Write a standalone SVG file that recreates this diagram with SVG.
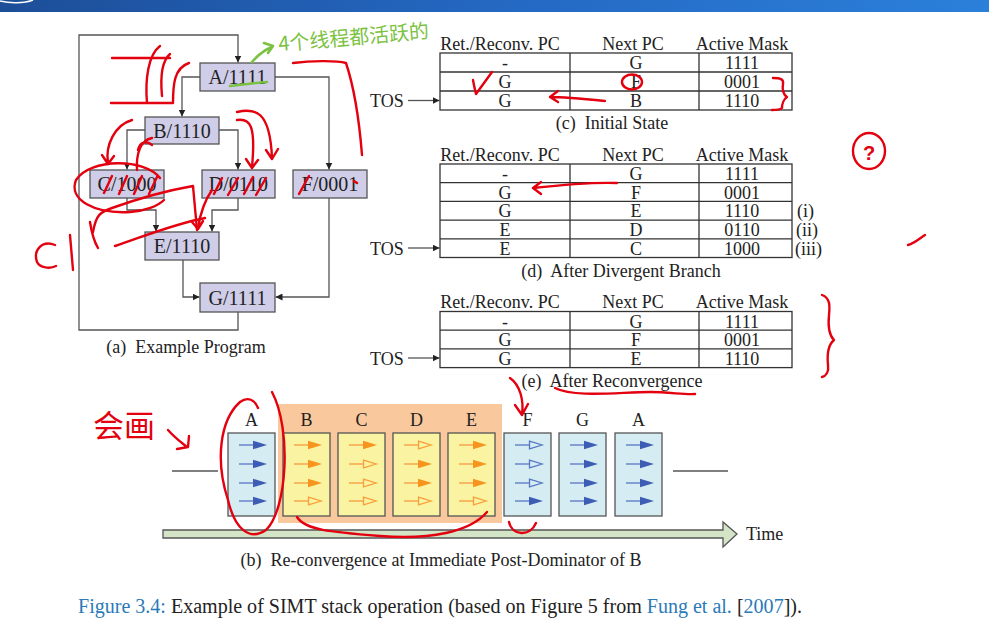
<svg xmlns="http://www.w3.org/2000/svg" xmlns:xlink="http://www.w3.org/1999/xlink" width="989" height="641" viewBox="0 0 989 641">
<style>
.box{fill:#cfcde8;stroke:#555;stroke-width:1.3}
.t{font-family:"Liberation Serif","Times New Roman",serif;font-size:18px;fill:#222}
.nl{font-size:20px}
.m{text-anchor:middle}
.conn{fill:none;stroke:#555;stroke-width:1.3}
.tbl{fill:none;stroke:#333;stroke-width:1.3}
.bb{fill:#d4ecf2;stroke:#555;stroke-width:1.3}
.yb{fill:#f9f3a2;stroke:#555;stroke-width:1.3}
.ann{fill:none;stroke:#e3000f;stroke-width:2.4;stroke-linecap:round;stroke-linejoin:round}
.grn{fill:none;stroke:#7cc242;stroke-width:2.6;stroke-linecap:round;stroke-linejoin:round}
.blue{fill:#2a7ab8}
</style>
<defs>
<linearGradient id="bar" x1="0" y1="0" x2="1" y2="0">
<stop offset="0" stop-color="#1d4e98"/><stop offset="0.5" stop-color="#2468c2"/><stop offset="1" stop-color="#2b80da"/>
</linearGradient>
<marker id="ah" viewBox="0 0 10 10" refX="10" refY="5" markerWidth="7" markerHeight="7" markerUnits="userSpaceOnUse" orient="auto">
<path d="M0,0 L10,5 L0,10 Z" fill="#222"/>
</marker>
<g id="abF"><line x1="0" y1="0" x2="14" y2="0" stroke="#6f8dcf" stroke-width="1.6"/><path d="M14,-4.2 L28,0 L14,4.2Z" fill="#3d5db5"/></g>
<g id="abH"><line x1="0" y1="0" x2="14" y2="0" stroke="#6f8dcf" stroke-width="1.6"/><path d="M14.5,-3.8 L27,0 L14.5,3.8Z" fill="none" stroke="#5878c4" stroke-width="1.3"/></g>
<g id="aoF"><line x1="0" y1="0" x2="14" y2="0" stroke="#f8aa50" stroke-width="1.6"/><path d="M14,-4.2 L28,0 L14,4.2Z" fill="#f7941d"/></g>
<g id="aoH"><line x1="0" y1="0" x2="14" y2="0" stroke="#f8aa50" stroke-width="1.6"/><path d="M14.5,-3.8 L27,0 L14.5,3.8Z" fill="none" stroke="#f7a03a" stroke-width="1.3"/></g>
</defs>
<rect width="989" height="641" fill="#fff"/>
<rect x="0" y="0" width="989" height="12" fill="url(#bar)"/>
<path d="M0,1 C10,3.5 24,3.5 33,0" fill="none" stroke="#fff" stroke-width="1.5"/>

<!-- (a) flowchart connectors -->
<g id="connectors">
<path class="conn" d="M238,312 V330 H79 V35 H238 V62.5" marker-end="url(#ah)"/>
<path class="conn" d="M200,77 H182 V116.5" marker-end="url(#ah)"/>
<path class="conn" d="M275,77 H329 V169.5" marker-end="url(#ah)"/>
<path class="conn" d="M145,130 H127 V169.5" marker-end="url(#ah)"/>
<path class="conn" d="M219,130 H238 V169.5" marker-end="url(#ah)"/>
<path class="conn" d="M127,198 V210 H156 V231.5" marker-end="url(#ah)"/>
<path class="conn" d="M238,198 V210 H212 V231.5" marker-end="url(#ah)"/>
<path class="conn" d="M183,260 V297 H199.5" marker-end="url(#ah)"/>
<path class="conn" d="M329,198 V297 H275.5" marker-end="url(#ah)"/>
<path class="conn" d="M408,100.5 H439.5" marker-end="url(#ah)"/>
<path class="conn" d="M408,248 H439.5" marker-end="url(#ah)"/>
<path class="conn" d="M408,358 H439.5" marker-end="url(#ah)"/>
</g>

<g id="node-A"><rect class="box" x="200" y="63" width="75" height="28"/><text class="t nl m" x="237.5" y="84">A/1111</text></g>
<g id="node-B"><rect class="box" x="145" y="117" width="74" height="27"/><text class="t nl m" x="182" y="137.5">B/1110</text></g>
<g id="node-C"><rect class="box" x="90" y="170" width="74" height="28"/><text class="t nl m" x="127" y="191">C/1000</text></g>
<g id="node-D"><rect class="box" x="202" y="170" width="73" height="28"/><text class="t nl m" x="238.5" y="191">D/0110</text></g>
<g id="node-F"><rect class="box" x="293" y="170" width="74" height="28"/><text class="t nl m" x="330" y="191">F/0001</text></g>
<g id="node-E"><rect class="box" x="145" y="232" width="74" height="28"/><text class="t nl m" x="182" y="253">E/1110</text></g>
<g id="node-G"><rect class="box" x="200" y="283" width="75" height="29"/><text class="t nl m" x="237.5" y="304.5">G/1111</text></g>
<text class="t m" x="186" y="353" xml:space="preserve">(a)  Example Program</text>

<!-- (c) table -->
<g id="table-c">
<text class="t m" x="500" y="50">Ret./Reconv. PC</text><text class="t m" x="633" y="50">Next PC</text><text class="t m" x="742" y="50">Active Mask</text>
<rect class="tbl" x="440" y="53" width="352" height="57"/>
<path class="tbl" d="M440,72 H792 M440,91 H792 M570,53 V110 M699,53 V110"/>
<text class="t m" x="505" y="69">-</text><text class="t m" x="636" y="69">G</text><text class="t m" x="742" y="69">1111</text>
<text class="t m" x="505" y="88">G</text><text class="t m" x="636" y="88">F</text><text class="t m" x="742" y="88">0001</text>
<text class="t m" x="505" y="107">G</text><text class="t m" x="636" y="107">B</text><text class="t m" x="742" y="107">1110</text>
<text class="t" x="370" y="107">TOS</text>
<text class="t m" x="612" y="129" xml:space="preserve">(c)  Initial State</text>
</g>

<!-- (d) table -->
<g id="table-d">
<text class="t m" x="500" y="161">Ret./Reconv. PC</text><text class="t m" x="633" y="161">Next PC</text><text class="t m" x="742" y="161">Active Mask</text>
<rect class="tbl" x="440" y="164" width="352" height="93.5"/>
<path class="tbl" d="M440,182.7 H792 M440,201.4 H792 M440,220.1 H792 M440,238.8 H792 M570,164 V257.5 M699,164 V257.5"/>
<text class="t m" x="505" y="180">-</text><text class="t m" x="636" y="180">G</text><text class="t m" x="742" y="180">1111</text>
<text class="t m" x="505" y="198.7">G</text><text class="t m" x="636" y="198.7">F</text><text class="t m" x="742" y="198.7">0001</text>
<text class="t m" x="505" y="217.4">G</text><text class="t m" x="636" y="217.4">E</text><text class="t m" x="742" y="217.4">1110</text>
<text class="t m" x="505" y="236.1">E</text><text class="t m" x="636" y="236.1">D</text><text class="t m" x="742" y="236.1">0110</text>
<text class="t m" x="505" y="254.8">E</text><text class="t m" x="636" y="254.8">C</text><text class="t m" x="742" y="254.8">1000</text>
<text class="t" x="797" y="217.4">(i)</text><text class="t" x="796" y="236.1">(ii)</text><text class="t" x="795" y="254.8">(iii)</text>
<text class="t" x="370" y="254.8">TOS</text>
<text class="t m" x="621" y="277" xml:space="preserve">(d)  After Divergent Branch</text>
</g>

<!-- (e) table -->
<g id="table-e">
<text class="t m" x="500" y="308">Ret./Reconv. PC</text><text class="t m" x="633" y="308">Next PC</text><text class="t m" x="742" y="308">Active Mask</text>
<rect class="tbl" x="440" y="311.5" width="352" height="56.1"/>
<path class="tbl" d="M440,330.2 H792 M440,348.9 H792 M570,311.5 V367.6 M699,311.5 V367.6"/>
<text class="t m" x="505" y="327.5">-</text><text class="t m" x="636" y="327.5">G</text><text class="t m" x="742" y="327.5">1111</text>
<text class="t m" x="505" y="346.2">G</text><text class="t m" x="636" y="346.2">F</text><text class="t m" x="742" y="346.2">0001</text>
<text class="t m" x="505" y="364.9">G</text><text class="t m" x="636" y="364.9">E</text><text class="t m" x="742" y="364.9">1110</text>
<text class="t" x="370" y="364.9">TOS</text>
<text class="t m" x="612" y="387" xml:space="preserve">(e)  After Reconvergence</text>
</g>

<!-- (b) timeline -->
<g id="timeline">
<rect x="278" y="404" width="224" height="119" fill="#f9c89c"/>
<path class="conn" d="M172,471 H218 M673,471 H728"/>
<polygon points="163,530 723,530 723,522 737,534 723,547 723,538 163,538" fill="#d3e5c6" stroke="#555" stroke-width="1.3"/>
<text class="t" x="746" y="540">Time</text>
<g id="step-A1"><rect class="bb" x="228" y="433" width="47" height="83"/><text class="t m" x="251.5" y="426">A</text>
<use href="#abF" x="239" y="445"/><use href="#abF" x="239" y="464"/><use href="#abF" x="239" y="483"/><use href="#abF" x="239" y="501"/></g>
<g id="step-B"><rect class="yb" x="283" y="433" width="47" height="83"/><text class="t m" x="306.5" y="426">B</text>
<use href="#aoF" x="294" y="445"/><use href="#aoF" x="294" y="464"/><use href="#aoF" x="294" y="483"/><use href="#aoH" x="294" y="501"/></g>
<g id="step-C"><rect class="yb" x="338" y="433" width="47" height="83"/><text class="t m" x="361.5" y="426">C</text>
<use href="#aoF" x="349" y="445"/><use href="#aoH" x="349" y="464"/><use href="#aoH" x="349" y="483"/><use href="#aoH" x="349" y="501"/></g>
<g id="step-D"><rect class="yb" x="393" y="433" width="47" height="83"/><text class="t m" x="416.5" y="426">D</text>
<use href="#aoH" x="404" y="445"/><use href="#aoF" x="404" y="464"/><use href="#aoF" x="404" y="483"/><use href="#aoH" x="404" y="501"/></g>
<g id="step-E"><rect class="yb" x="448" y="433" width="47" height="83"/><text class="t m" x="471.5" y="426">E</text>
<use href="#aoF" x="459" y="445"/><use href="#aoF" x="459" y="464"/><use href="#aoF" x="459" y="483"/><use href="#aoH" x="459" y="501"/></g>
<g id="step-F"><rect class="bb" x="504" y="433" width="47" height="83"/><text class="t m" x="527.5" y="426">F</text>
<use href="#abH" x="515" y="445"/><use href="#abH" x="515" y="464"/><use href="#abH" x="515" y="483"/><use href="#abF" x="515" y="501"/></g>
<g id="step-G"><rect class="bb" x="559" y="433" width="47" height="83"/><text class="t m" x="582.5" y="426">G</text>
<use href="#abF" x="570" y="445"/><use href="#abF" x="570" y="464"/><use href="#abF" x="570" y="483"/><use href="#abF" x="570" y="501"/></g>
<g id="step-A2"><rect class="bb" x="615" y="433" width="47" height="83"/><text class="t m" x="638.5" y="426">A</text>
<use href="#abF" x="626" y="445"/><use href="#abF" x="626" y="464"/><use href="#abF" x="626" y="483"/><use href="#abF" x="626" y="501"/></g>
<text class="t m" x="441" y="566" xml:space="preserve">(b)  Re-convergence at Immediate Post-Dominator of B</text>
</g>

<text class="t" x="78" y="613" style="font-size:20px" textLength="724" lengthAdjust="spacingAndGlyphs"><tspan class="blue">Figure 3.4:</tspan> Example of SIMT stack operation (based on Figure 5 from <tspan class="blue">Fung et al.</tspan> [<tspan class="blue">2007</tspan>]).</text>

<!-- handwritten annotations -->
<g id="annotations">
<path class="ann" d="M112,58 H170 M111,103 H173 M147,103 C145,80 148,55 160,46 M162,96 C160,75 163,60 170,54 M173,103 C173,85 174,68 189,63"/>
<path class="ann" d="M293,63 C310,61 335,60 346,63 C355,90 360,130 362,155"/>
<path class="ann" d="M132,120 C115,125 105,145 108,163 M102,155 L108,164 L114,156"/>
<path class="ann" d="M152,138 C140,140 136,155 137,170 M138,150 C140,142 146,140 152,145"/>
<path class="ann" d="M237,112 C255,108 270,110 272,158 M266,150 L272,159 L278,149"/>
<path class="ann" d="M237,120 C250,118 256,125 252,167 M246,159 L252,168 L258,160"/>
<path class="ann" d="M160,178 C145,158 90,158 76,180 C68,200 95,214 130,212 C145,211 158,206 164,200" stroke-width="1.6"/>
<path class="ann" d="M104,193 L112,176 M119,194 L127,176 M134,194 L142,176 M149,194 L157,177 M214,194 L222,178 M228,195 L238,178 M244,194 L253,177 M256,195 L266,178 M299,194 L309,176 M354,181 L357,183" stroke-width="1.4"/>
<path class="ann" d="M93,232 C96,215 100,212 112,208 C140,198 170,190 193,186 L197,230" stroke-width="3"/>
<path class="ann" d="M115,246 C140,238 170,225 205,218" stroke-width="3"/>
<path class="ann" d="M212,190 C205,200 200,215 198,228 M192,222 L198,229 L203,221"/>
<path class="ann" d="M55,245 C42,240 33,250 37,262 C40,268 50,269 56,266 M70,235 L73,270 M90,222 C92,235 95,243 98,248"/>
<path class="ann" d="M473,80 C474,86 475,90 476,94 L492,72"/>
<ellipse class="ann" cx="632" cy="82" rx="10" ry="7.5" stroke-width="2"/>
<path class="ann" d="M605,101 C585,99 565,97 550,97 M558,91 L550,97 L558,102" stroke-width="1.8"/>
<path class="ann" d="M773,78 C780,78 784,79 783,84 C782,90 784,95 787,97 C784,99 782,104 782,108 C780,110 776,110 772,110" stroke-width="2"/>
<path class="ann" d="M617,183 C590,182 560,185 533,188 M541,182 L533,188 L541,194" stroke-width="1.8"/>
<path class="ann" d="M822,295 C830,298 830,305 829,315 C828,325 829,335 834,340 C828,345 827,355 828,365 C829,372 826,376 822,377" stroke-width="2.4"/>
<path class="ann" d="M555,388 C575,398 620,392 650,392 C670,392 685,395 695,394" stroke-width="1.6"/>
<path class="ann" d="M510,378 C520,385 524,400 522,415 M515,405 L522,415 L528,404" stroke-width="2"/>
<text x="93" y="437" font-family="Noto Sans CJK SC, sans-serif" font-size="31" fill="#e3000f">会画</text>
<path class="ann" d="M168,430 C175,438 182,443 187,447 M177,449 L188,447 L189,436"/>
<path class="ann" d="M272,392 C292,430 287,510 266,530 C250,541 235,530 228,500 C215,460 220,420 240,402 C248,396 255,400 258,408" stroke-width="2"/>
<path class="ann" d="M297,517 C305,530 330,532 380,536 C430,540 470,532 487,512" stroke-width="1.6"/>
<path class="ann" d="M509,522 C512,536 530,537 536,523" stroke-width="1.8"/>
<path class="ann" d="M908,245 C915,243 920,238 925,235" stroke-width="1.2" stroke="#f06070"/>
<ellipse class="ann" cx="869" cy="151" rx="16" ry="18" stroke-width="3"/>
<text x="869" y="160" text-anchor="middle" font-family="Liberation Sans, sans-serif" font-weight="bold" font-size="20" fill="#e3000f">?</text>
<path class="grn" d="M252,62 C258,55 264,50 272,47 M264,43 L273,46 L268,53 M230,86 C245,84 255,83 267,82"/>
<text x="279" y="51" font-family="Noto Sans CJK SC, sans-serif" font-size="20" fill="#7cc242" transform="rotate(-5 279 51)">4个线程都活跃的</text>
</g>
</svg>
